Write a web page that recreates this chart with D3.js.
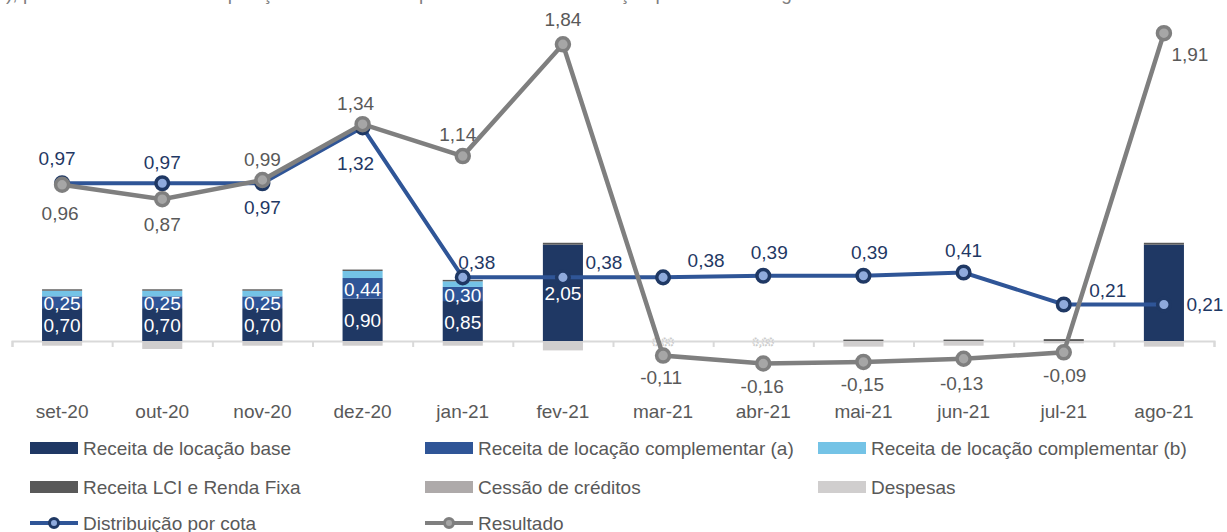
<!DOCTYPE html>
<html lang="pt-BR">

<head>
    <meta charset="UTF-8">
    <script src="https://d3js.org/d3.v7.min.js"></script>
    <style>
        body {
            margin: 0;
            background: #fff;
            font-family: "Liberation Sans", Arial, sans-serif;
        }
    </style>
</head>

<body>
    <svg id="chart" width="1227" height="532"></svg>
    <script>
        // Data
        const months = ['set-20', 'out-20', 'nov-20', 'dez-20', 'jan-21', 'fev-21', 'mar-21', 'abr-21', 'mai-21', 'jun-21', 'jul-21', 'ago-21'];
        const baseRent = [0.70, 0.70, 0.70, 0.90, 0.85, 2.05, 0, 0, 0, 0, 0, 2.05];
        const rentA = [0.25, 0.25, 0.25, 0.44, 0.30, 0, 0, 0, 0, 0, 0, 0];
        const rentB = [0.12, 0.12, 0.12, 0.15, 0.12, 0, 0, 0, 0, 0, 0, 0];
        const lciIncome = [0.03, 0.03, 0.03, 0.03, 0.03, 0.04, 0, 0, 0.03, 0.03, 0.04, 0.04];
        const creditAssign = [0, 0, 0, 0, 0, 0, 0, 0, 0, 0, 0, 0];
        const expenses = [-0.10, -0.17, -0.10, -0.10, -0.10, -0.20, 0, 0, -0.12, -0.10, -0.05, -0.12];
        const distribution = [0.97, 0.97, 0.97, 1.32, 0.38, 0.38, 0.38, 0.39, 0.39, 0.41, 0.21, 0.21];
        const result = [0.96, 0.87, 0.99, 1.34, 1.14, 1.84, -0.11, -0.16, -0.15, -0.13, -0.09, 1.91];
        const labeledBars = ['set-20', 'out-20', 'nov-20', 'dez-20', 'jan-21', 'fev-21'];
        const ghostLabels = ['mar-21', 'abr-21'];

        // label placement (dx, dy from the point)
        const distOffset = [[-5, -25], [0, -21], [0, 24], [-7, 36], [14, -15], [41, -15], [43, -17], [6, -23], [6, -23], [0, -22], [44, -14], [41, 0]];
        const resultOffset = [[-2, 29], [0, 25], [0, -20], [-7, -21], [-5, -22], [0, -25], [-2, 22], [-1, 23], [-1, 23], [-2, 25], [1, 23], [26, 21]];

        const fmt = v => d3.format('.2f')(v).replace('.', ',').replace('\u2212', '-');

        const svg = d3.select('#chart');
        const font = '"Liberation Sans", Arial, sans-serif';

        const x = d3.scaleBand().domain(months).range([12, 1214]);
        const barW = x.bandwidth() * 0.4;
        const yBar = d3.scaleLinear().domain([-0.5, 6.5]).range([341 + 0.5 * 47, 341 - 6.5 * 47]);
        const yLine = d3.scaleLinear().domain([-0.5, 2]).range([338 + 0.5 * 159.6, 338 - 2 * 159.6]);

        // partly hidden text line at the top edge
        svg.append('text')
            .attr('x', 6).attr('y', 0)
            .style('font', `19px ${font}`).attr('fill', '#7f7f7f')
            .text('), pode-se observar a composição do resultado operacional e da distribuição por cota ao longo dos últimos 12 meses');

        const series = [
            { key: 'base', name: 'Receita de locação base', color: '#1f3864', values: baseRent },
            { key: 'a', name: 'Receita de locação complementar (a)', color: '#2f5597', values: rentA },
            { key: 'b', name: 'Receita de locação complementar (b)', color: '#74c3e6', values: rentB },
            { key: 'lci', name: 'Receita LCI e Renda Fixa', color: '#595959', values: lciIncome },
            { key: 'cessao', name: 'Cessão de créditos', color: '#aeaaaa', values: creditAssign },
            { key: 'desp', name: 'Despesas', color: '#d0cece', values: expenses },
        ];

        const table = months.map((m, i) => {
            const row = { month: m };
            series.forEach(s => row[s.key] = s.values[i]);
            return row;
        });
        const stack = d3.stack().keys(series.map(s => s.key)).offset(d3.stackOffsetDiverging);
        const layers = stack(table);

        // boundary ticks + baseline
        const edge = d3.scaleLinear().domain([0, months.length]).range(x.range());
        const baseAxis = svg.append('g')
            .attr('transform', `translate(0,${yBar(0)})`)
            .call(d3.axisBottom(edge).ticks(months.length).tickSize(6).tickFormat(''));
        baseAxis.selectAll('path, line').attr('stroke', '#d9d9d9').attr('stroke-width', 2);

        // bars
        svg.append('g').selectAll('g')
            .data(layers).enter()
            .append('g')
            .attr('fill', (d, i) => series[i].color)
            .selectAll('rect')
            .data(d => d).enter()
            .append('rect')
            .attr('x', d => x(d.data.month) + (x.bandwidth() - barW) / 2)
            .attr('width', barW)
            .attr('y', d => yBar(Math.max(d[0], d[1])))
            .attr('height', d => Math.abs(yBar(d[0]) - yBar(d[1])));

        // bar labels
        const barLabels = [];
        layers.slice(0, 2).forEach(layer => {
            layer.forEach(d => {
                if (labeledBars.includes(d.data.month) && d[1] - d[0] > 0)
                    barLabels.push({ month: d.data.month, mid: (d[0] + d[1]) / 2, v: d[1] - d[0] });
            });
        });
        svg.append('g').selectAll('text')
            .data(barLabels).enter()
            .append('text')
            .attr('x', d => x(d.month) + x.bandwidth() / 2)
            .attr('y', d => yBar(d.mid) + 1)
            .attr('text-anchor', 'middle')
            .attr('dominant-baseline', 'central')
            .attr('fill', '#fff')
            .style('font', `19px ${font}`)
            .text(d => fmt(d.v));

        svg.append('g').selectAll('text')
            .data(ghostLabels).enter()
            .append('text')
            .attr('x', d => x(d) + x.bandwidth() / 2)
            .attr('y', yBar(0) + 1)
            .attr('text-anchor', 'middle')
            .attr('dominant-baseline', 'central')
            .attr('fill', '#fff')
            .attr('stroke', '#c8c8c8')
            .attr('stroke-width', 0.8)
            .attr('stroke-dasharray', '2,1')
            .style('font', `11px ${font}`)
            .text('0,00');

        // category labels
        const catAxis = svg.append('g')
            .attr('transform', 'translate(0,411)')
            .call(d3.axisBottom(x).tickSize(0).tickPadding(0));
        catAxis.select('.domain').remove();
        catAxis.selectAll('text')
            .attr('fill', '#595959')
            .attr('dy', '0.35em')
            .style('font', `19px ${font}`);

        const cx = m => x(m) + x.bandwidth() / 2;
        const line = d3.line().x((d, i) => cx(months[i])).y(d => yLine(d));

        // Distribuição por cota
        svg.append('path')
            .datum(distribution)
            .attr('d', line)
            .attr('fill', 'none')
            .attr('stroke', '#2f5597')
            .attr('stroke-width', 4);
        svg.append('g').selectAll('circle')
            .data(distribution).enter()
            .append('circle')
            .attr('cx', (d, i) => cx(months[i]))
            .attr('cy', d => yLine(d))
            .attr('r', 6.3)
            .attr('fill', '#8faadc')
            .attr('stroke', '#1f3864')
            .attr('stroke-width', 3.5);

        // Resultado
        svg.append('path')
            .datum(result)
            .attr('d', line)
            .attr('fill', 'none')
            .attr('stroke', '#7f7f7f')
            .attr('stroke-width', 4.5);
        svg.append('g').selectAll('circle')
            .data(result).enter()
            .append('circle')
            .attr('cx', (d, i) => cx(months[i]))
            .attr('cy', d => yLine(d))
            .attr('r', 6.5)
            .attr('fill', '#a6a6a6')
            .attr('stroke', '#7f7f7f')
            .attr('stroke-width', 3.5);

        // line labels
        svg.append('g').selectAll('text')
            .data(distribution).enter()
            .append('text')
            .attr('x', (d, i) => cx(months[i]) + distOffset[i][0])
            .attr('y', (d, i) => yLine(d) + distOffset[i][1])
            .attr('text-anchor', 'middle')
            .attr('dominant-baseline', 'central')
            .attr('fill', '#1f3864')
            .style('font', `19px ${font}`)
            .text(d => fmt(d));

        svg.append('g').selectAll('text')
            .data(result).enter()
            .append('text')
            .attr('x', (d, i) => cx(months[i]) + resultOffset[i][0])
            .attr('y', (d, i) => yLine(d) + resultOffset[i][1])
            .attr('text-anchor', 'middle')
            .attr('dominant-baseline', 'central')
            .attr('fill', '#595959')
            .style('font', `19px ${font}`)
            .text(d => fmt(d));

        // legend
        const legendCols = [30, 425, 818];
        const legendRows = [448, 487];
        const legend = svg.append('g');
        series.forEach((s, i) => {
            const lx = legendCols[i % 3], ly = legendRows[Math.floor(i / 3)];
            legend.append('rect')
                .attr('x', lx).attr('y', ly - 6)
                .attr('width', 48).attr('height', 12)
                .attr('fill', s.color);
            legend.append('text')
                .attr('x', lx + 53).attr('y', ly)
                .attr('dominant-baseline', 'central')
                .attr('fill', '#595959')
                .style('font', `19px ${font}`)
                .text(s.name);
        });
        const lineLegend = [
            { name: 'Distribuição por cota', stroke: '#2f5597', fill: '#8faadc', ring: '#1f3864' },
            { name: 'Resultado', stroke: '#7f7f7f', fill: '#a6a6a6', ring: '#7f7f7f' },
        ];
        lineLegend.forEach((s, i) => {
            const lx = legendCols[i], ly = 523;
            legend.append('line')
                .attr('x1', lx).attr('x2', lx + 48)
                .attr('y1', ly).attr('y2', ly)
                .attr('stroke', s.stroke).attr('stroke-width', 4);
            legend.append('circle')
                .attr('cx', lx + 24).attr('cy', ly).attr('r', 4.5)
                .attr('fill', s.fill).attr('stroke', s.ring).attr('stroke-width', 3);
            legend.append('text')
                .attr('x', lx + 53).attr('y', ly)
                .attr('dominant-baseline', 'central')
                .attr('fill', '#595959')
                .style('font', `19px ${font}`)
                .text(s.name);
        });
    </script>
</body>

</html>
